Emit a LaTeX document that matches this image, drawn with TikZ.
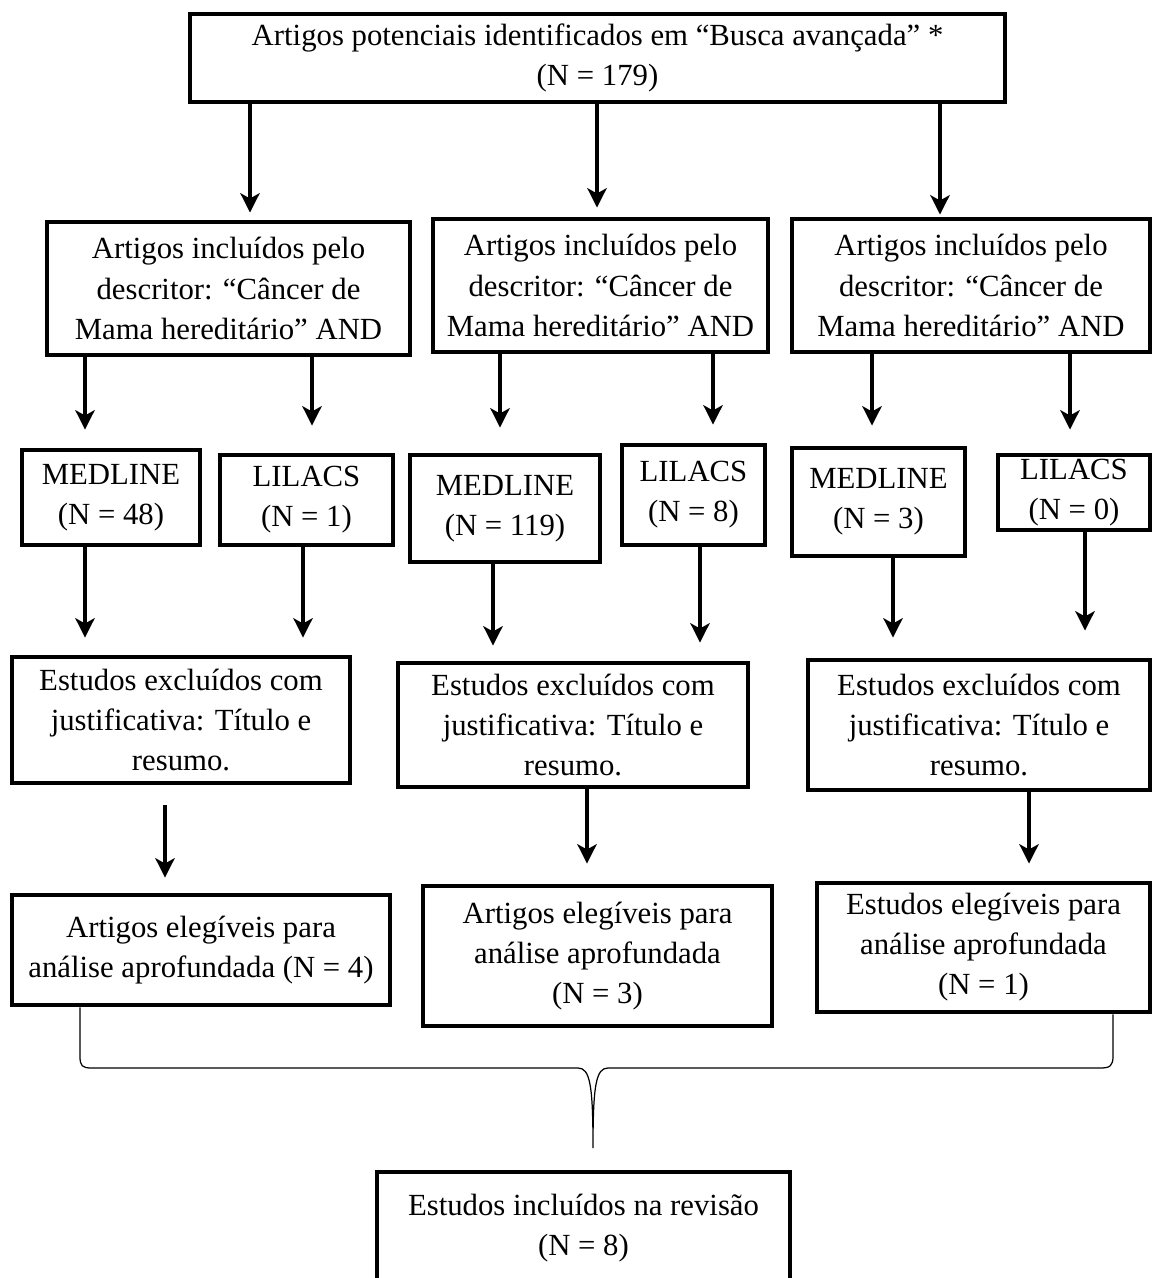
\documentclass[tikz,border=0pt]{standalone}
\usepackage{fontspec}
\setmainfont{Liberation Serif}
\usetikzlibrary{arrows.meta}

\newcommand{\px}{0.02cm}
\tikzset{
  caixa/.style={draw, line width=2.8pt, align=center, inner sep=0pt,
    font=\fontsize{17.5}{22.8}\selectfont},
  seta/.style={-{Stealth[length=11pt,width=11pt,inset=3pt]}, line width=2.1pt},
  chave/.style={line width=0.7pt}
}

\begin{document}
\begin{tikzpicture}[x=0.02cm,y=-0.02cm]
\useasboundingbox (0,0) rectangle (1153,1278);

% busca
\node[caixa, minimum width=815*\px, minimum height=88*\px] (topo) at (597.5,58)
  {Artigos potenciais identificados em “Busca avançada” *\\(N = 179)};

% descritores
\node[caixa, minimum width=363*\px, minimum height=133*\px] (descA) at (228.5,288.5)
  {Artigos incluídos pelo\\descritor: “Câncer de\\Mama hereditário” AND};
\node[caixa, minimum width=335*\px, minimum height=133*\px] (descB) at (600.5,285.5)
  {Artigos incluídos pelo\\descritor: “Câncer de\\Mama hereditário” AND};
\node[caixa, minimum width=358*\px, minimum height=133*\px] (descC) at (971,285.5)
  {Artigos incluídos pelo\\descritor: “Câncer de\\Mama hereditário” AND};

% bases
\node[caixa, minimum width=178*\px, minimum height=95*\px] (medA) at (111,497.5) {MEDLINE\\(N = 48)};
\node[caixa, minimum width=173*\px, minimum height=90*\px] (lilA) at (306.5,500) {LILACS\\(N = 1)};
\node[caixa, minimum width=190*\px, minimum height=107*\px] (medB) at (505,508.5) {MEDLINE\\(N = 119)};
\node[caixa, minimum width=143*\px, minimum height=100*\px] (lilB) at (693.5,495) {LILACS\\(N = 8)};
\node[caixa, minimum width=173*\px, minimum height=108*\px] (medC) at (878.5,502) {MEDLINE\\(N = 3)};
\node[caixa, minimum width=152*\px, minimum height=75*\px] (lilC) at (1074,492.5) {LILACS\\(N = 0)};

% excluidos
\node[caixa, minimum width=338*\px, minimum height=126*\px] (excA) at (181,720)
  {Estudos excluídos com\\justificativa: Título e\\resumo.};
\node[caixa, minimum width=350*\px, minimum height=124*\px] (excB) at (573,725)
  {Estudos excluídos com\\justificativa: Título e\\resumo.};
\node[caixa, minimum width=342*\px, minimum height=130*\px] (excC) at (979,725)
  {Estudos excluídos com\\justificativa: Título e\\resumo.};

% elegiveis
\node[caixa, minimum width=378*\px, minimum height=110*\px] (eligA) at (201,950)
  {Artigos elegíveis para\\análise aprofundada (N = 4)};
\node[caixa, minimum width=349*\px, minimum height=140*\px] (eligB) at (597.5,956)
  {Artigos elegíveis para\\análise aprofundada\\(N = 3)};
\node[caixa, minimum width=333*\px, minimum height=129*\px] (eligC) at (983.5,947.5)
  {Estudos elegíveis para\\análise aprofundada\\(N = 1)};

% revisao
\node[caixa, minimum width=413*\px, minimum height=112*\px] (revisao) at (583.5,1228)
  {Estudos incluídos na revisão\\(N = 8)};

% setas
\draw[seta, shorten >=0.14cm] (topo.south -| 250,0) -- (descA.north -| 250,0);
\draw[seta, shorten >=0.18cm] (topo.south -| 597,0) -- (descB.north -| 597,0);
\draw[seta, shorten >=0.04cm] (topo.south -| 940,0) -- (descC.north -| 940,0);

\draw[seta, shorten >=0.36cm] (descA.south -| 85,0) -- (medA.north -| 85,0);
\draw[seta, shorten >=0.54cm] (descA.south -| 312,0) -- (lilA.north -| 312,0);
\draw[seta, shorten >=0.5cm] (descB.south -| 500,0) -- (medB.north -| 500,0);
\draw[seta, shorten >=0.36cm] (descB.south -| 713,0) -- (lilB.north -| 713,0);
\draw[seta, shorten >=0.4cm] (descC.south -| 872,0) -- (medC.north -| 872,0);
\draw[seta, shorten >=0.46cm] (descC.south -| 1070,0) -- (lilC.north -| 1070,0);

\draw[seta, shorten >=0.34cm] (medA.south -| 85,0) -- (excA.north -| 85,0);
\draw[seta, shorten >=0.34cm] (lilA.south -| 303,0) -- (excA.north -| 303,0);
\draw[seta, shorten >=0.3cm] (medB.south -| 493,0) -- (excB.north -| 493,0);
\draw[seta, shorten >=0.36cm] (lilB.south -| 700,0) -- (excB.north -| 700,0);
\draw[seta, shorten >=0.4cm] (medC.south -| 893,0) -- (excC.north -| 893,0);
\draw[seta, shorten >=0.54cm] (lilC.south -| 1085,0) -- (excC.north -| 1085,0);

\draw[seta, shorten <=0.4cm, shorten >=0.3cm] (excA.south -| 165,0) -- (eligA.north -| 165,0);
\draw[seta, shorten >=0.4cm] (excB.south -| 587,0) -- (eligB.north -| 587,0);
\draw[seta, shorten >=0.34cm] (excC.south -| 1029,0) -- (eligC.north -| 1029,0);

% chave
\draw[chave] (eligA.south -| 80,0) -- (80,1056) .. controls (80,1066) and (82,1068) .. (92,1068)
  -- (578,1068) .. controls (590,1068) and (593,1085) .. (593,1148)
  .. controls (593,1085) and (596,1068) .. (608,1068) -- (1100,1068)
  .. controls (1110,1068) and (1113,1066) .. (1113,1056) -- (eligC.south -| 1113,0);

\end{tikzpicture}
\end{document}
